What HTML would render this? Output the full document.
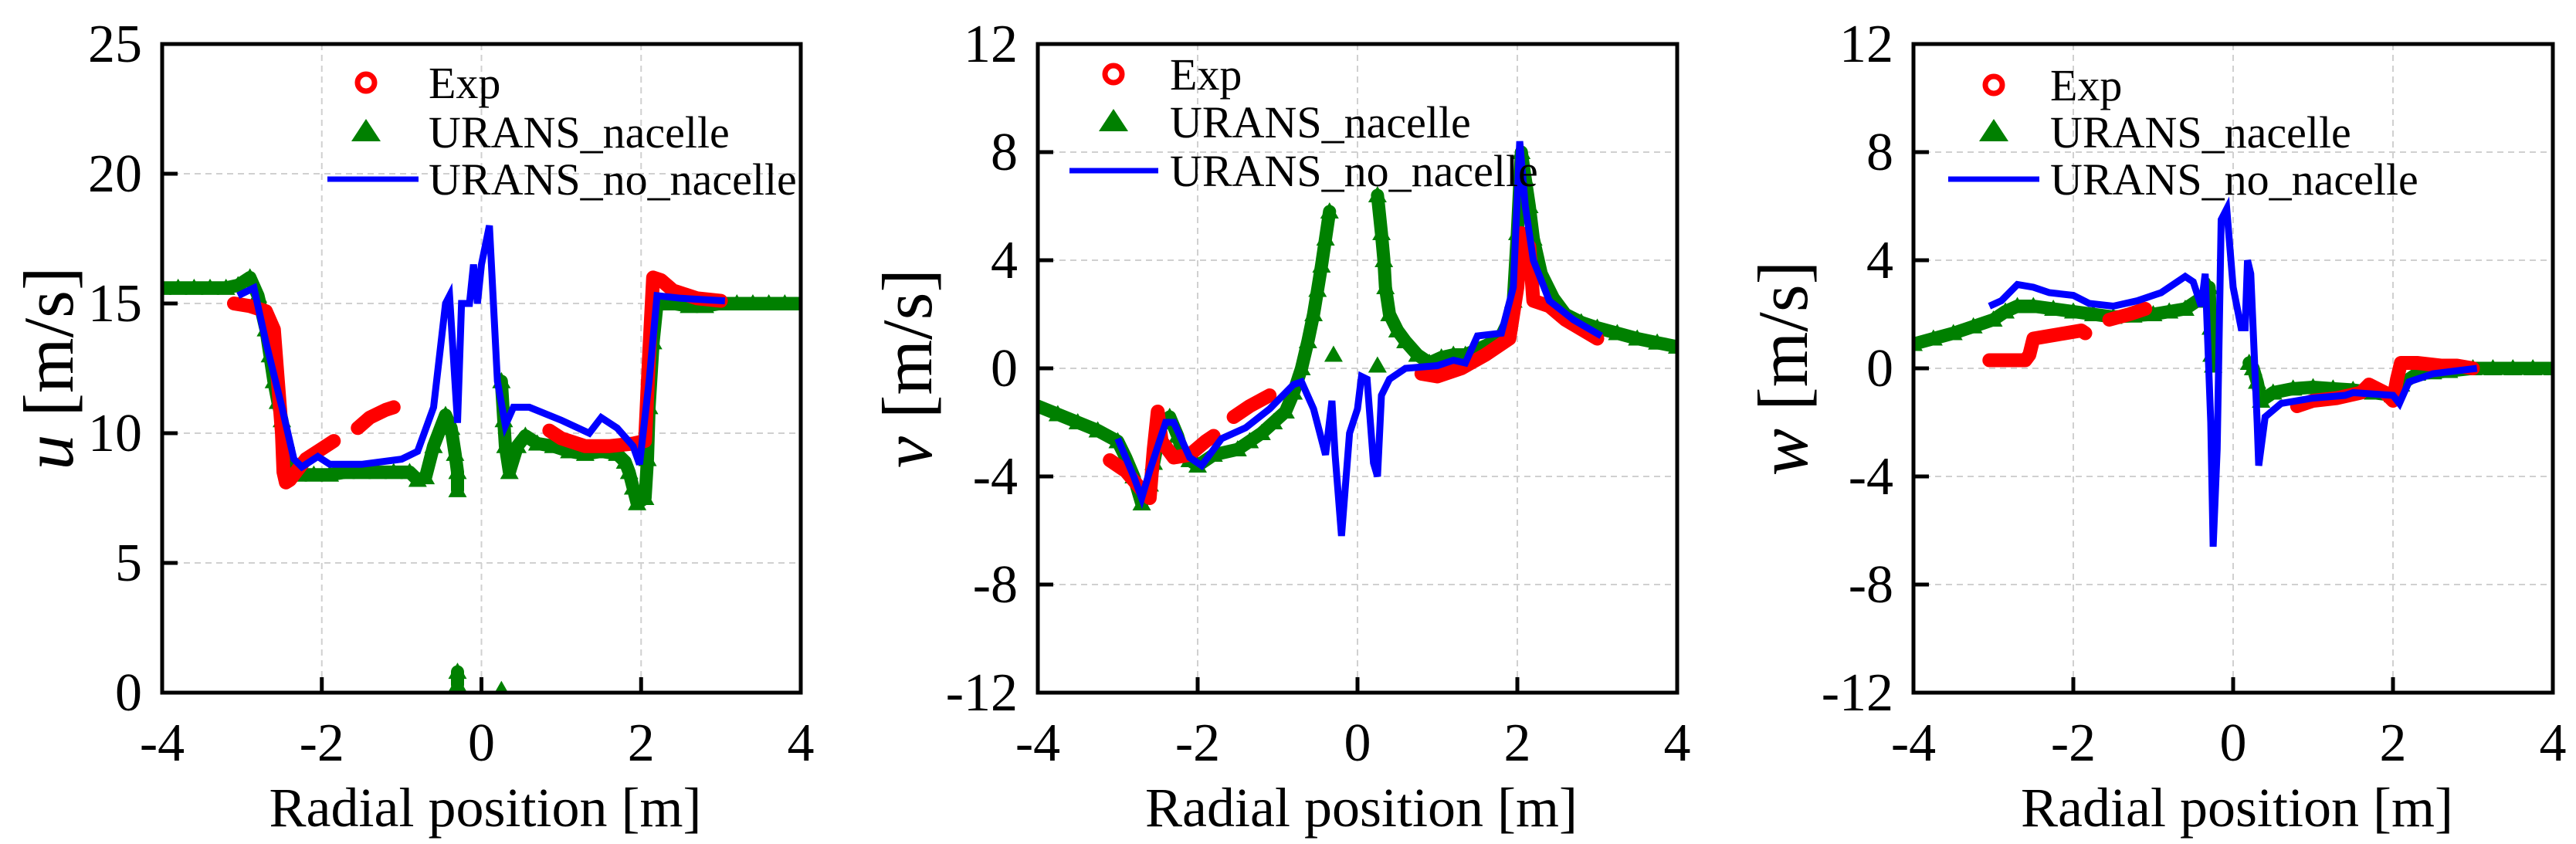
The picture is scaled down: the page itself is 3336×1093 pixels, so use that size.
<!DOCTYPE html>
<html><head><meta charset="utf-8"><style>
html,body{margin:0;padding:0;background:#fff;}
svg text{font-family:"Liberation Serif",serif;fill:#000;}
</style></head><body>
<svg id="fig" width="3336" height="1088" viewBox="0 0 3336 1088" xmlns="http://www.w3.org/2000/svg"></svg>
<script>
// ---------- data ----------
const uNacelle = [[-4,15.6],[-3.8,15.6],[-3.6,15.6],[-3.4,15.6],[-3.2,15.6],[-3.05,15.7],[-2.9,16.0],[-2.8,15.3],[-2.7,14],[-2.65,13],[-2.6,12],[-2.55,11.2],[-2.5,10.5],[-2.45,9.7],[-2.4,9],[-2.3,8.4],[-2.1,8.4],[-1.9,8.4],[-1.7,8.5],[-1.5,8.5],[-1.3,8.5],[-1.1,8.5],[-0.9,8.5],[-0.8,8.2],[-0.7,8.3],[-0.6,9.5],[-0.5,10.3],[-0.45,10.7],[-0.38,10.2],[-0.33,9.2],[-0.3,8.5],[-0.3,7.8],null,[-0.3,0.8],[-0.3,0.3],null,[0.25,0.1],null,[0.25,12],[0.28,10.5],[0.3,9.5],[0.35,8.5],[0.45,9.5],[0.55,9.9],[0.7,9.6],[0.9,9.5],[1.1,9.3],[1.3,9.2],[1.5,9.3],[1.7,9.2],[1.8,8.9],[1.85,8.5],[1.9,7.9],[1.95,7.3],[2.05,7.5],[2.08,9],[2.1,11],[2.15,13.5],[2.2,15],[2.4,15],[2.6,14.9],[2.8,14.9],[3,15],[3.2,15],[3.4,15],[3.6,15],[3.8,15],[4,15]];
const uExp = [[-3.1,15],[-2.9,14.9],[-2.7,14.7],[-2.6,14],[-2.55,12],[-2.5,10],[-2.48,8.5],[-2.45,8.1],[-2.4,8.2],[-2.3,8.6],[-2.2,9],[-2.0,9.4],[-1.85,9.7],null,[-1.55,10.2],[-1.4,10.6],[-1.2,10.9],[-1.1,11.0],null,[0.85,10.1],[1.0,9.8],[1.3,9.5],[1.6,9.5],[1.9,9.6],[2.05,9.7],[2.1,13],[2.15,16],[2.25,15.9],[2.4,15.5],[2.7,15.2],[3.0,15.1]];
const uNoNacelle = [[-3.05,15.3],[-2.85,15.6],[-2.7,13.5],[-2.5,11],[-2.35,9],[-2.25,8.7],[-2.05,9.1],[-1.9,8.8],[-1.5,8.8],[-1,9],[-0.8,9.3],[-0.6,11],[-0.45,15],[-0.4,15.3],[-0.3,10.4],[-0.25,15],[-0.15,15],[-0.1,16.5],[-0.05,15],[0,16.5],[0.1,18],[0.2,12],[0.3,10.3],[0.4,11],[0.6,11],[1,10.5],[1.35,10],[1.5,10.6],[1.7,10.2],[1.9,9.5],[1.98,8.8],[2.1,12],[2.2,15.3],[2.5,15.2],[3.05,15.1]];

const vNacelle = [[-4,-1.4],[-3.75,-1.7],[-3.5,-2],[-3.25,-2.3],[-3,-2.7],[-2.9,-3.3],[-2.8,-4],[-2.7,-5],[-2.6,-4.3],[-2.55,-3.5],[-2.45,-2],[-2.35,-1.8],[-2.25,-2.5],[-2.2,-3],[-2.1,-3.4],[-2,-3.6],[-1.8,-3.2],[-1.5,-3],[-1.35,-2.7],[-1.2,-2.4],[-1.05,-2],[-0.9,-1.6],[-0.8,-0.9],[-0.7,0],[-0.62,1],[-0.55,2],[-0.5,2.9],[-0.45,3.8],[-0.4,4.8],[-0.35,5.8],null,[-0.3,0.5],null,[0.25,0.1],null,[0.25,6.4],[0.3,5],[0.33,4],[0.35,3],[0.4,2],[0.5,1.4],[0.6,1],[0.75,0.5],[0.9,0.2],[1.05,0.4],[1.2,0.5],[1.35,0.5],[1.5,0.7],[1.65,0.9],[1.8,1.2],[1.9,1.8],[1.95,2.5],[2.0,5],[2.05,8],[2.1,7],[2.15,6],[2.2,4.8],[2.3,3.5],[2.45,2.6],[2.6,2],[2.8,1.7],[3,1.5],[3.25,1.3],[3.5,1.1],[3.75,0.95],[4,0.8]];
const vExp = [[-3.1,-3.4],[-2.9,-3.8],[-2.7,-4.5],[-2.6,-4.8],[-2.55,-3],[-2.5,-1.6],[-2.45,-2.7],[-2.3,-3.3],[-2.1,-3.2],[-1.9,-2.7],[-1.8,-2.5],null,[-1.55,-1.8],[-1.35,-1.4],[-1.1,-1],null,[0.8,-0.2],[1,-0.3],[1.3,0],[1.6,0.5],[1.9,1.1],[2.0,3],[2.05,5],[2.15,4.5],[2.2,2.5],[2.4,2.3],[2.6,1.8],[3,1.1]];
const vNoNacelle = [[-3,-2.6],[-2.8,-4],[-2.7,-4.8],[-2.6,-3.8],[-2.4,-2],[-2.3,-2],[-2.1,-3.3],[-1.95,-3.6],[-1.7,-2.6],[-1.4,-2.2],[-1.1,-1.5],[-0.8,-0.6],[-0.7,-0.5],[-0.55,-1.5],[-0.4,-3.2],[-0.32,-1.2],[-0.28,-3.2],[-0.2,-6.2],[-0.1,-2.4],[0,-1.5],[0.05,-0.3],[0.12,-0.4],[0.2,-3.5],[0.25,-4],[0.3,-1],[0.4,-0.4],[0.6,0],[1,0.1],[1.2,0.3],[1.35,0.2],[1.5,1.2],[1.8,1.3],[1.95,3],[2.03,8.4],[2.1,6],[2.2,4],[2.4,2.5],[2.7,1.8],[3.05,1.2]];

const wNacelle = [[-4,0.9],[-3.75,1.1],[-3.5,1.3],[-3.25,1.55],[-3,1.8],[-2.85,2.1],[-2.7,2.3],[-2.5,2.3],[-2.25,2.2],[-2,2.1],[-1.75,2.0],[-1.5,1.9],[-1.25,1.95],[-1,2.0],[-0.8,2.1],[-0.6,2.2],[-0.45,2.5],[-0.35,2.5],[-0.3,3],[-0.28,1.5],[-0.27,0.5],[-0.25,0.1],null,[0.2,0.2],[0.25,0],[0.3,-0.5],[0.35,-1.2],[0.5,-0.9],[0.75,-0.75],[1,-0.7],[1.25,-0.75],[1.5,-0.8],[1.75,-0.9],[2,-1],[2.1,-0.6],[2.3,-0.2],[2.5,-0.15],[2.7,-0.1],[3,0],[3.25,0],[3.5,0],[3.75,0],[4,0]];
const wExp = [[-3.05,0.3],[-2.8,0.3],[-2.6,0.3],[-2.55,0.5],[-2.5,1.1],[-2.3,1.2],[-2.1,1.3],[-1.9,1.4],[-1.85,1.3],null,[-1.55,1.8],[-1.3,2.0],[-1.1,2.2],null,[0.8,-1.4],[1,-1.2],[1.3,-1.1],[1.6,-0.9],[1.7,-0.6],[1.9,-0.9],[2.0,-1.2],[2.05,-0.4],[2.1,0.2],[2.3,0.2],[2.6,0.1],[2.8,0.1],[3.0,0]];
const wNoNacelle = [[-3.05,2.3],[-2.9,2.5],[-2.7,3.1],[-2.5,3],[-2.3,2.8],[-2,2.7],[-1.8,2.4],[-1.5,2.3],[-1.2,2.5],[-0.9,2.8],[-0.6,3.4],[-0.5,3.2],[-0.4,2.3],[-0.35,3.5],[-0.28,-2],[-0.25,-6.6],[-0.2,-3],[-0.15,5.5],[-0.08,5.9],[0,3],[0.1,1.5],[0.15,1.5],[0.18,4],[0.22,3.5],[0.3,-2],[0.32,-3.6],[0.4,-1.8],[0.6,-1.3],[1,-1.1],[1.4,-1],[1.5,-0.9],[2,-1],[2.08,-1.3],[2.2,-0.5],[2.5,-0.2],[3.05,0]];

const xTicks = [-4,-2,0,2,4];
const uTicks = [0,5,10,15,20,25];
const vwTicks = [-12,-8,-4,0,4,8,12];
const legendLabels = ["Exp","URANS_nacelle","URANS_no_nacelle"];

// ---------- drawing ----------
const NS = "http://www.w3.org/2000/svg";
const svg = document.getElementById("fig");
function el(tag, attrs, parent){ const e=document.createElementNS(NS,tag); for(const k in attrs) e.setAttribute(k,attrs[k]); (parent||svg).appendChild(e); return e; }

const panels = [
 {id:"u", L:210, R:1037, yr:[0,25], yt:uTicks, sym:"u", exp:uExp, nac:uNacelle, no:uNoNacelle, tx:64, leg:{mx:474, tx:555, lx1:424, lx2:542, ys:[107,171,232]}},
 {id:"v", L:1344, R:2172, yr:[-12,12], yt:vwTicks, sym:"v", exp:vExp, nac:vNacelle, no:vNoNacelle, tx:1176, leg:{mx:1442, tx:1515, lx1:1385, lx2:1500, ys:[96,158,221]}},
 {id:"w", L:2478, R:3306, yr:[-12,12], yt:vwTicks, sym:"w", exp:wExp, nac:wNacelle, no:wNoNacelle, tx:2310, leg:{mx:2582, tx:2655, lx1:2523, lx2:2641, ys:[110,171,232]}}
];
const T=57, B=897;

panels.forEach(p=>{
  const g = el("g",{});
  
  
  const sx = x=> p.L + (x+4)/8*(p.R-p.L);
  const sy = y=> B - (y-p.yr[0])/(p.yr[1]-p.yr[0])*(B-T);
  const clipId="clip"+p.id;
  const cp=el("clipPath",{id:clipId},g); el("rect",{x:p.L,y:T,width:p.R-p.L,height:B-T},cp);
  xTicks.forEach(t=>{ if(t>-4&&t<4){ const l=el("line",{x1:sx(t),x2:sx(t),y1:T,y2:B,stroke:"#d0d0d0","stroke-width":2,"stroke-dasharray":"8,6"},g);
      }});
  p.yt.forEach(t=>{ if(t>p.yr[0]&&t<p.yr[1]){ const l=el("line",{x1:p.L,x2:p.R,y1:sy(t),y2:sy(t),stroke:"#d0d0d0","stroke-width":2,"stroke-dasharray":"8,6"},g);
      }});
  const dg = el("g",{"clip-path":"url(#"+clipId+")"},g);
  const pathD = arr=>{ let d="",pen=false; arr.forEach(pt=>{ if(!pt){pen=false;return;} d+=(pen?"L":"M")+sx(pt[0]).toFixed(1)+","+sy(pt[1]).toFixed(1); pen=true;}); return d; };
  const gn = el("path",{d:pathD(p.nac),fill:"none",stroke:"#008000","stroke-width":17,"stroke-linejoin":"round","stroke-linecap":"round"},dg);
   
  p.nac.forEach(pt=>{ if(!pt) return; const x=sx(pt[0]), y=sy(pt[1]);
    const tr=el("polygon",{points:`${x-12},${y+9} ${x+12},${y+9} ${x},${y-12}`,fill:"#008000"},dg);
      });
  const re = el("path",{d:pathD(p.exp),fill:"none",stroke:"#ff0000","stroke-width":18,"stroke-linejoin":"round","stroke-linecap":"round"},dg);
   
  const bl = el("path",{d:pathD(p.no),fill:"none",stroke:"#0000ff","stroke-width":9,"stroke-linejoin":"miter"},dg);
   
  const fr=el("rect",{x:p.L,y:T,width:p.R-p.L,height:B-T,fill:"none",stroke:"#000","stroke-width":5},g);
   
  xTicks.forEach(t=>{ const x=sx(t);
    const tk=el("line",{x1:x,x2:x,y1:B,y2:B-20,stroke:"#000","stroke-width":5},g);
     
    const tl=el("text",{x:x,y:985,"font-size":70,"text-anchor":"middle"},g); tl.textContent=(t<0?"-"+(-t):t);
      });
  p.yt.forEach(t=>{ const y=sy(t);
    const tk=el("line",{x1:p.L,x2:p.L+20,y1:y,y2:y,stroke:"#000","stroke-width":5},g);
     
    const tl=el("text",{x:p.L-26,y:y+23,"font-size":70,"text-anchor":"end"},g); tl.textContent=(t<0?"-"+(-t):t);
      });
  const xt=el("text",{x:(p.L+p.R)/2+5,y:1070,"font-size":72,"text-anchor":"middle"},g); xt.textContent="Radial position [m]";
   
  const yt=el("text",{x:0,y:0,"font-size":92,"text-anchor":"middle",transform:`translate(${p.tx+30},477) rotate(-90)`},g);
  const it=el("tspan",{"font-style":"italic"},yt); it.textContent=p.sym;
  const rest=el("tspan",{},yt); rest.textContent=" [m/s]";
   
  const lg=el("g",{},g);  
  const L=p.leg;
  const c=el("circle",{cx:L.mx,cy:L.ys[0],r:11,fill:"none",stroke:"#ff0000","stroke-width":7},lg);
   
  const tri=el("polygon",{points:`${L.mx-19},${L.ys[1]+12} ${L.mx+19},${L.ys[1]+12} ${L.mx},${L.ys[1]-17}`,fill:"#008000"},lg);
   
  const ln=el("line",{x1:L.lx1,x2:L.lx2,y1:L.ys[2],y2:L.ys[2],stroke:"#0000ff","stroke-width":7},lg);
   
  legendLabels.forEach((s,i)=>{ const t=el("text",{x:L.tx,y:L.ys[i]+20,"font-size":58},lg); t.textContent=s;
      });
});
</script>
</body></html>
